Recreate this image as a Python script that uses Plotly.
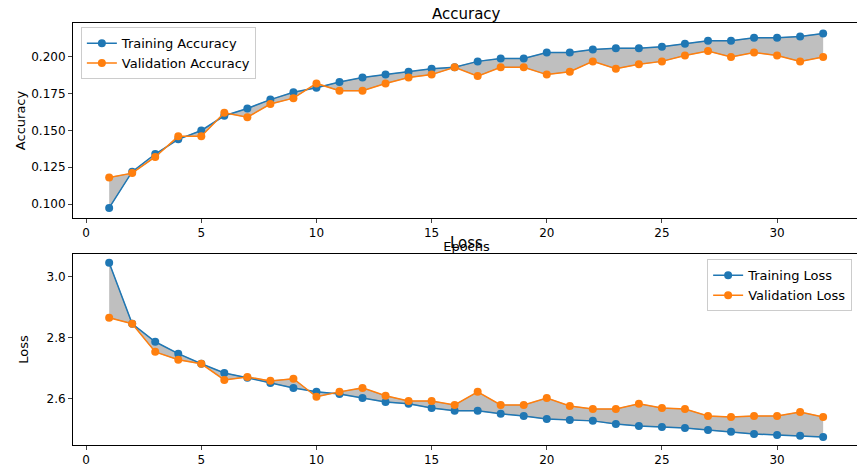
import plotly.graph_objects as go
from plotly.subplots import make_subplots

epochs = list(range(1, 33))
train_acc = [0.0973, 0.122, 0.134, 0.144, 0.150, 0.160, 0.165, 0.171, 0.176, 0.179, 0.183, 0.186,
             0.188, 0.190, 0.192, 0.193, 0.197, 0.199, 0.199, 0.203, 0.203, 0.205, 0.206, 0.206,
             0.207, 0.209, 0.211, 0.211, 0.213, 0.213, 0.214, 0.216]
val_acc = [0.118, 0.121, 0.132, 0.146, 0.146, 0.162, 0.159, 0.168, 0.172, 0.182, 0.177, 0.177,
           0.182, 0.186, 0.188, 0.193, 0.187, 0.193, 0.193, 0.188, 0.190, 0.197, 0.192, 0.195,
           0.197, 0.201, 0.204, 0.200, 0.203, 0.201, 0.197, 0.200]
train_loss = [3.046, 2.846, 2.787, 2.748, 2.715, 2.685, 2.669, 2.652, 2.636, 2.623, 2.616, 2.603,
              2.590, 2.584, 2.570, 2.561, 2.561, 2.551, 2.544, 2.534, 2.531, 2.528, 2.518, 2.511,
              2.508, 2.505, 2.498, 2.492, 2.485, 2.482, 2.479, 2.475]
val_loss = [2.866, 2.846, 2.754, 2.728, 2.715, 2.662, 2.672, 2.659, 2.666, 2.607, 2.623, 2.636,
            2.610, 2.593, 2.593, 2.580, 2.623, 2.580, 2.580, 2.603, 2.577, 2.567, 2.567, 2.584,
            2.570, 2.567, 2.544, 2.541, 2.544, 2.544, 2.557, 2.541]

BLUE = '#1f77b4'
ORANGE = '#ff7f0e'

fig = make_subplots(rows=2, cols=1, vertical_spacing=0.0)

for row, tr, va, names, leg in [
    (1, train_acc, val_acc, ('Training Accuracy', 'Validation Accuracy'), 'legend'),
    (2, train_loss, val_loss, ('Training Loss', 'Validation Loss'), 'legend2'),
]:
    # gray band between the curves
    fig.add_trace(go.Scatter(x=epochs, y=tr, mode='lines', line=dict(width=0.5, color='#777'),
                             showlegend=False, hoverinfo='skip'), row=row, col=1)
    fig.add_trace(go.Scatter(x=epochs, y=va, mode='lines', line=dict(width=0.5, color='#777'),
                             fill='tonexty', fillcolor='rgba(128,128,128,0.5)',
                             showlegend=False, hoverinfo='skip'), row=row, col=1)
    fig.add_trace(go.Scatter(x=epochs, y=tr, mode='lines+markers', name=names[0], legend=leg,
                             line=dict(color=BLUE, width=1.5), marker=dict(size=8, color=BLUE)),
                  row=row, col=1)
    fig.add_trace(go.Scatter(x=epochs, y=va, mode='lines+markers', name=names[1], legend=leg,
                             line=dict(color=ORANGE, width=1.5), marker=dict(size=8, color=ORANGE)),
                  row=row, col=1)

axis_style = dict(showline=True, linecolor='black', mirror=True, ticks='outside', ticklen=4,
                  showgrid=False, zeroline=False, automargin=False,
                  tickfont=dict(size=12, color='black'))
fig.update_xaxes(**axis_style, range=[-0.57, 33.6], tickvals=[0, 5, 10, 15, 20, 25, 30])
fig.update_yaxes(**axis_style)
fig.update_xaxes(title_text='Epochs', title_standoff=2, title_font=dict(size=13), row=1, col=1)
fig.update_yaxes(title_text='Accuracy', title_standoff=2, title_font=dict(size=13),
                 range=[0.0905, 0.2231],
                 tickvals=[0.1, 0.125, 0.15, 0.175, 0.2], tickformat='.3f',
                 domain=[0.538, 1.0], row=1, col=1)
fig.update_yaxes(title_text='Loss', title_standoff=14, title_font=dict(size=13),
                 range=[2.449, 3.075],
                 tickvals=[2.6, 2.8, 3.0], tickformat='.1f',
                 domain=[0.0, 0.453], row=2, col=1)

legend_style = dict(bgcolor='rgba(255,255,255,0.8)', bordercolor='#ccc', borderwidth=1,
                    traceorder='normal', font=dict(size=13, color='black'))
fig.update_layout(
    width=865, height=465,
    margin=dict(l=65, r=13, t=15, b=28),
    plot_bgcolor='white', paper_bgcolor='white',
    font=dict(family='DejaVu Sans', color='black'),
    legend=dict(x=0.01, y=0.99, xanchor='left', yanchor='top', **legend_style),
    legend2=dict(x=0.99, y=0.44, xanchor='right', yanchor='top', **legend_style),
    annotations=[
        dict(text='Accuracy', x=0.5, y=1.0, xref='paper', yref='paper', xanchor='center',
             yanchor='bottom', yshift=-2, showarrow=False, font=dict(size=15)),
        dict(text='Loss', x=0.5, y=0.453, xref='paper', yref='paper', xanchor='center',
             yanchor='bottom', showarrow=False, font=dict(size=15)),
    ],
)

fig.write_html('out.html')
